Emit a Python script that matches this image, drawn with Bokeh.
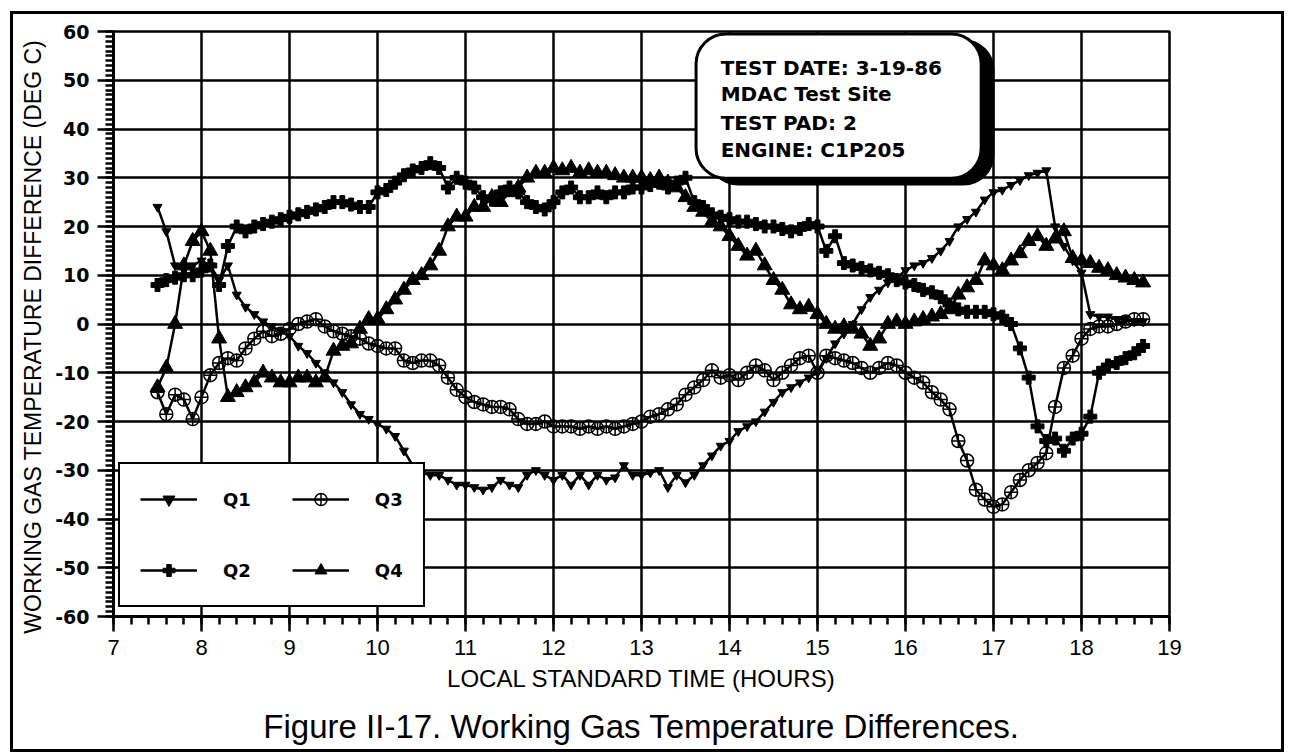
from bokeh.plotting import figure
from bokeh.models import (Range1d, SingleIntervalTicker, Legend, LegendItem,
                          BoxAnnotation, Label, Title, NumeralTickFormatter)
from bokeh.embed import file_html
from bokeh.resources import INLINE

# ---------------- data ----------------
hours = [round(7.5 + 0.1 * i, 1) for i in range(113)]  # sampling times 7.5 .. 18.7 h

q1 = [24, 19, 12, 11, 12, 13, 12, 9, 12, 6,
      3.5, 2, 0.5, -0.5, -1.5, -2.5, -4.5, -6, -8, -10,
      -12, -14, -16.5, -18.5, -19.5, -20.5, -21.5, -23, -26, -29,
      -30.5, -31, -31, -32, -33, -33, -33.5, -34, -33.5, -32,
      -33, -33.5, -31, -30, -31, -32, -31, -33, -31, -33,
      -31, -32, -31.5, -29, -31, -31, -30.5, -30, -33.5, -31,
      -32.5, -31, -29, -27, -25, -24, -22, -21, -20, -18,
      -16, -14, -13, -12, -11, -10, -7, -4, -2, 0,
      3, 5.5, 7, 8.5, 9.5, 11, 12, 12.5, 13.5, 15,
      17, 20, 21.5, 23, 25.5, 27, 27.5, 28.5, 29.5, 30.5,
      31, 31.5, 20, 16, 13, 10.5, 2, 1.5, 1.5, 1,
      1, 0.5, 0.5]

q2 = [8, 9, 9.5, 10, 10, 11, 12, 8, 16, 20,
      19, 20, 20.5, 21, 21.5, 22, 22.5, 23, 23.5, 24,
      25, 25, 24.5, 24, 24, 27, 27.5, 29, 30.5, 31.5,
      32, 33, 32, 28, 30, 29, 28, 26, 25.5, 27,
      28, 27, 25, 24, 23.5, 25, 27, 28, 26, 26,
      27, 26, 27, 27, 28, 28, 28.5, 29, 28, 29,
      30, 25, 24, 22.5, 22, 21.5, 21, 21, 20.5, 20,
      20, 19.5, 19, 19.5, 20.5, 20, 15, 18, 12.5, 12,
      11.5, 11, 10.5, 10, 9, 8.5, 8, 7, 6.5, 5.5,
      4, 3, 2.5, 2.5, 2.5, 2, 1.5, 0, -5, -11,
      -21, -24, -23.5, -26, -23.5, -22.5, -19, -10, -8.5, -8,
      -7, -6, -4.5]

q3 = [-14, -18.5, -14.5, -15.5, -19.5, -15, -10.5, -8, -7, -7.5,
      -5, -3, -1.5, -2.5, -2, -1, 0, 0.5, 1, -0.5,
      -1.5, -2, -2.5, -3, -4, -4.5, -5, -5, -7.5, -8,
      -7.5, -7.5, -8.5, -11, -13.5, -15, -16, -16.5, -17, -17,
      -17.5, -19.5, -20.5, -20.5, -20, -21, -21, -21, -21.5, -21,
      -21.5, -21, -21.5, -21, -20.5, -20, -19, -18.5, -17.5, -16.5,
      -14.5, -13, -11.5, -9.5, -11, -10.5, -11.5, -10, -8.5, -9.5,
      -11.5, -10, -8.5, -7, -6.5, -10, -6.5, -7, -7.5, -8,
      -9, -10, -9, -8, -8.5, -10, -11, -12, -14, -15.5,
      -17.5, -24, -28, -34, -36, -37.5, -37, -34.5, -32, -30,
      -28.5, -26.5, -17, -9, -6.5, -3, -1, -0.5, -0.5, 0,
      0.5, 1, 1]

q4 = [-13, -9, 0, 12, 17, 19, 15, -3, -15, -14,
      -13, -12, -10, -11, -12, -12, -11, -11, -12, -11,
      -5.5, -4.5, -4, -1, 1, 1, 3, 5, 7, 9,
      10, 12, 15, 20, 22, 22, 24, 24, 26, 25,
      27, 28, 30, 31, 31, 32, 31.5, 32, 31, 31.5,
      31, 31, 30.5, 30, 30, 30, 29.5, 30, 29, 28,
      26, 24, 23, 21, 20, 18, 16, 14, 15, 12,
      9, 7, 4, 3, 3.5, 2, 0, -1, -0.5, -1,
      -2, -4.5, -3, 0, 0.5, 0, 0.5, 1, 1.5, 2,
      3, 6, 7.5, 9, 13, 12, 11, 13, 14.5, 17,
      18, 16, 17.5, 19, 13.5, 13, 12.5, 11.5, 11, 10,
      9.5, 9, 8.5]

series_names = ["Q1", "Q2", "Q3", "Q4"]
info_lines = ["TEST DATE: 3-19-86", "MDAC Test Site", "TEST PAD: 2", "ENGINE: C1P205"]
x_label = "LOCAL STANDARD TIME (HOURS)"
y_label = "WORKING GAS TEMPERATURE DIFFERENCE (DEG C)"
caption_text = "Figure II-17. Working Gas Temperature Differences."

# ---------------- figure ----------------
W, H = 1268, 735
p = figure(width=W, height=H,
           x_range=Range1d(7, 19), y_range=Range1d(-60, 60),
           output_backend="svg", toolbar_location=None,
           min_border_left=100, min_border_right=118,
           min_border_top=17, min_border_bottom=129,
           background_fill_color="white", border_fill_color="white",
           styles={"margin": "11px 0px 0px 10px",
                   "border": "3px solid black", "box-sizing": "content-box"})

p.outline_line_color = "black"
p.outline_line_width = 2.5

# grid
for g in (p.xgrid, p.ygrid):
    g.grid_line_color = "black"
    g.grid_line_width = 2.5
    g.grid_line_alpha = 1

# axes
p.xaxis.ticker = SingleIntervalTicker(interval=1, num_minor_ticks=5)
p.yaxis.ticker = SingleIntervalTicker(interval=10, num_minor_ticks=10)
p.yaxis.formatter = NumeralTickFormatter(format="0")
for ax in (p.xaxis[0], p.yaxis[0]):
    ax.axis_line_color = "black"
    ax.axis_line_width = 3
    ax.major_tick_line_color = "black"
    ax.major_tick_line_width = 2.5
    ax.minor_tick_line_color = "black"
    ax.minor_tick_line_width = 2.5
    ax.major_tick_in = 0
    ax.minor_tick_in = 0
    ax.axis_label_text_font = "Liberation Sans"
    ax.axis_label_text_font_style = "normal"
    ax.axis_label_text_color = "black"
    ax.major_label_text_color = "black"

p.xaxis.axis_label_text_font_size = "24px"
p.xaxis.major_tick_out = 15
p.xaxis.minor_tick_out = 8
p.xaxis.major_label_standoff = 8
p.xaxis.major_label_text_font = "Liberation Sans"
p.xaxis.major_label_text_font_size = "22px"
p.xaxis.axis_label = x_label
p.xaxis.axis_label_standoff = 7

p.yaxis.axis_label_text_font_size = "23px"
p.yaxis.major_tick_out = 16
p.yaxis.minor_tick_out = 8
p.yaxis.major_label_standoff = 8
p.yaxis.major_label_text_font = "DejaVu Sans"
p.yaxis.major_label_text_font_style = "bold"
p.yaxis.major_label_text_font_size = "19px"
# the printed label sits a little below the centre of the plot area
p.yaxis.axis_label = y_label + "\u00a0" * 4
p.yaxis.axis_label_standoff = 6

# ---------------- series ----------------
styles = {
    "Q1": dict(marker="inverted_triangle", size=9, fill_color="black", line_width=1),
    "Q2": dict(marker="plus", size=13, fill_color="black", line_width=1),
    "Q3": dict(marker="circle_cross", size=13, fill_color=None, line_width=1.5),
    "Q4": dict(marker="triangle", size=15, fill_color="black", line_width=1),
}
items = []
for name, ys in zip(series_names, [q1, q2, q3, q4]):
    ln = p.line(hours, ys, line_color="black", line_width=2.5)
    st = styles[name]
    sc = p.scatter(hours, ys, marker=st["marker"], size=st["size"],
                   fill_color=st["fill_color"], line_color="black",
                   line_width=st["line_width"])
    items.append(LegendItem(label=name, renderers=[ln, sc]))

legend = Legend(items=items, location=(5, 9), orientation="vertical", nrows=2,
                glyph_width=57, glyph_height=30, label_standoff=26,
                spacing=41, padding=20, margin=0,
                border_line_color="black", border_line_width=2.5,
                border_line_alpha=1,
                background_fill_color="white", background_fill_alpha=1,
                label_text_font="DejaVu Sans", label_text_font_style="bold",
                label_text_font_size="18px", label_text_color="black")
p.add_layout(legend)

# ---------------- info box ----------------
shadow = BoxAnnotation(left=13.76, right=17.0, top=58.2, bottom=28.6,
                       fill_color="black", fill_alpha=1, line_color="black",
                       line_alpha=1, line_width=2, border_radius=30)
box = BoxAnnotation(left=13.62, right=16.86, top=59.5, bottom=29.9,
                    fill_color="white", fill_alpha=1, line_color="black",
                    line_alpha=1, line_width=3, border_radius=30)
p.add_layout(shadow)
p.add_layout(box)
for txt, yy in zip(info_lines, [52.5, 47.2, 41.3, 35.6]):
    p.add_layout(Label(x=13.9, y=yy, text=txt, text_baseline="middle",
                       text_font="DejaVu Sans", text_font_style="bold",
                       text_font_size="20px", text_color="black"))

# ---------------- caption ----------------
caption = Title(text=caption_text, align="center", text_font="Liberation Sans",
                text_font_style="normal", text_font_size="33px",
                text_color="black", standoff=22)
p.add_layout(caption, "below")

open("out.html", "w").write(file_html(p, INLINE))
